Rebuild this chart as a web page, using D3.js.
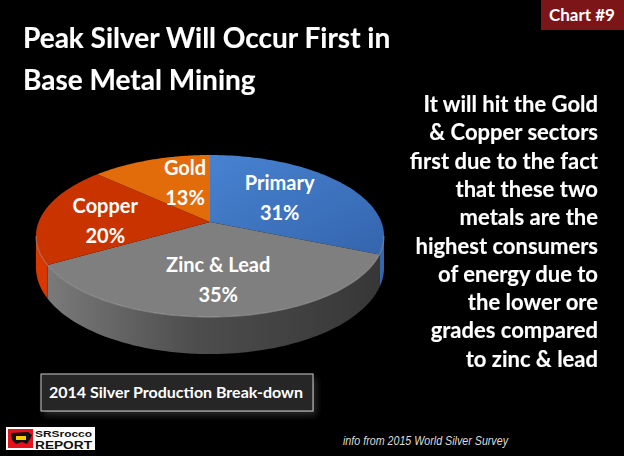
<!DOCTYPE html>
<html>
<head>
<meta charset="utf-8">
<script src="https://cdn.jsdelivr.net/npm/d3@7"></script>
<style>
  html, body { margin: 0; padding: 0; background: #000; }
  svg { display: block; }
  text { font-family: Lato, "Open Sans", sans-serif; font-weight: bold; fill: #fff; }
</style>
</head>
<body>
<div id="chart"></div>
<script>
// data
const categories = ["Primary", "Zinc & Lead", "Copper", "Gold"];
const shares = [31, 35, 20, 13];
const titleLines = ["Peak Silver Will Occur First in", "Base Metal Mining"];
const noteLines = [
  "It will hit the Gold",
  "& Copper sectors",
  "first due to the fact",
  "that these two",
  "metals are the",
  "highest consumers",
  "of energy due to",
  "the lower ore",
  "grades compared",
  "to zinc & lead"
];
const subtitle = "2014 Silver Production Break-down";
const source = "info from 2015 World Silver Survey";

const width = 624, height = 456;

// pie geometry (perspective ellipse)
const cx = 210, cy = 222, A = 171.4, B = 78.6, k = 0.173, depth = 37;
const topColors = {"Primary": "#3e74c2", "Zinc & Lead": "#7f7f7f", "Copper": "#c93300", "Gold": "#e36c0a"};
const labelShift = {"Primary": [-1, -2], "Zinc & Lead": [2, 13], "Copper": [-17, 3], "Gold": [8, -4]};

const svg = d3.select("#chart").append("svg")
  .attr("width", width).attr("height", height)
  .attr("viewBox", `0 0 ${width} ${height}`);

svg.append("rect").attr("width", width).attr("height", height).attr("fill", "#000");

const defs = svg.append("defs");

const wallGrad = defs.append("linearGradient").attr("id", "wallGray")
  .attr("gradientUnits", "userSpaceOnUse")
  .attr("x1", 40).attr("x2", 385).attr("y1", 0).attr("y2", 0);
wallGrad.append("stop").attr("offset", 0).attr("stop-color", "#7c7c7c");
wallGrad.append("stop").attr("offset", 0.45).attr("stop-color", "#4d4d4d");
wallGrad.append("stop").attr("offset", 1).attr("stop-color", "#363636");

const blueGrad = defs.append("linearGradient").attr("id", "topBlue")
  .attr("x1", 0).attr("x2", 1).attr("y1", 0).attr("y2", 1);
blueGrad.append("stop").attr("offset", 0).attr("stop-color", "#4782d1");
blueGrad.append("stop").attr("offset", 1).attr("stop-color", "#3465ad");

const glow = defs.append("filter").attr("id", "glow")
  .attr("x", "-10%").attr("y", "-30%").attr("width", "120%").attr("height", "160%");
glow.append("feDropShadow").attr("dx", 1).attr("dy", 1).attr("stdDeviation", 2)
  .attr("flood-color", "#000").attr("flood-opacity", 0.9);

const boxShadow = defs.append("filter").attr("id", "boxShadow")
  .attr("x", "-10%").attr("y", "-30%").attr("width", "130%").attr("height", "180%");
boxShadow.append("feDropShadow").attr("dx", 3).attr("dy", 4).attr("stdDeviation", 3)
  .attr("flood-color", "#333").attr("flood-opacity", 0.8);

// angle (radians, 0 = back/top, clockwise) -> screen point
function project(theta, f, h) {
  const s = Math.sin(theta), c = Math.cos(theta);
  const den = 1 + k * f * c;
  const x = cx + A * f * s / den;
  const y = cy - B * f * c / den;
  const d = h ? depth * (1 - k) / (1 + k * c) : 0;
  return [x, y + d];
}

const pie = d3.pie().sort(null).value(d => d.value);
const arcs = pie(categories.map((name, i) => ({name, value: shares[i]})));

const steps = 80;
function arcPoints(a0, a1, h) {
  return d3.range(steps + 1).map(i => project(a0 + (a1 - a0) * i / steps, 1, h));
}

// visible outer wall is where the wall faces the viewer
const visA = Math.acos(-k), visB = 2 * Math.PI - Math.acos(-k);
const line = d3.line();

const walls = svg.append("g");
arcs.forEach(a => {
  const a0 = Math.max(a.startAngle, visA), a1 = Math.min(a.endAngle, visB);
  if (a1 <= a0) return;
  const topPts = arcPoints(a0, a1, false);
  const botPts = arcPoints(a0, a1, true).reverse();
  const name = a.data.name;
  const fill = name === "Zinc & Lead" ? "url(#wallGray)"
    : d3.color(topColors[name]).brighter(name === "Copper" ? 0.2 : -0.4);
  walls.append("path")
    .attr("d", line(topPts.concat(botPts)) + "Z")
    .attr("fill", fill);
});

const tops = svg.append("g");
arcs.forEach(a => {
  const pts = [[cx, cy]].concat(arcPoints(a.startAngle, a.endAngle, false));
  const name = a.data.name;
  tops.append("path")
    .attr("d", line(pts) + "Z")
    .attr("fill", name === "Primary" ? "url(#topBlue)" : topColors[name]);
});

// faint highlight on the front rim of the top face
tops.append("path")
  .attr("d", line(arcPoints(visA, visB, false)))
  .attr("fill", "none").attr("stroke", "#b5b5b5").attr("stroke-opacity", 0.45).attr("stroke-width", 1.2);

// slice labels
const labels = svg.append("g").attr("text-anchor", "middle").style("font-size", "20px");
arcs.forEach(a => {
  const mid = (a.startAngle + a.endAngle) / 2;
  const p = project(mid, 0.52, false);
  const sh = labelShift[a.data.name];
  const g = labels.append("g").attr("transform", `translate(${p[0] + sh[0]},${p[1] + sh[1]})`);
  g.append("text").attr("y", -8).text(a.data.name);
  g.append("text").attr("y", 22).text(a.data.value + "%");
});

// title
svg.append("g").attr("filter", "url(#glow)")
  .selectAll("text").data(titleLines).join("text")
  .attr("x", 23).attr("y", (d, i) => 48 + i * 42)
  .style("font-size", "28px")
  .text(d => d);

// chart number tag
svg.append("rect").attr("x", 541).attr("y", 0).attr("width", 83).attr("height", 30).attr("fill", "#7b1518");
svg.append("text").attr("x", 582).attr("y", 21).attr("text-anchor", "middle")
  .style("font-size", "17px").text("Chart #9");

// right-hand note
svg.append("g").attr("filter", "url(#glow)").attr("text-anchor", "end")
  .selectAll("text").data(noteLines).join("text")
  .attr("x", 598).attr("y", (d, i) => 112 + i * 28.3)
  .style("font-size", "22px")
  .text(d => d);

// subtitle box
svg.append("rect").attr("x", 41).attr("y", 374).attr("width", 272).attr("height", 37)
  .attr("fill", "#262626").attr("stroke", "#c8c8c8").attr("stroke-width", 1)
  .attr("filter", "url(#boxShadow)");
svg.append("text").attr("x", 176).attr("y", 398).attr("text-anchor", "middle")
  .style("font-size", "16px").text(subtitle);

// source note
svg.append("text").attr("x", 508).attr("y", 445).attr("text-anchor", "end")
  .style("font-family", "'Liberation Sans', Arial, sans-serif").style("font-weight", "normal")
  .style("font-style", "italic").style("font-size", "12.5px").style("fill", "#dcdcdc")
  .attr("textLength", 165).attr("lengthAdjust", "spacingAndGlyphs")
  .text(source);

// logo
const logo = svg.append("g").attr("transform", "translate(6,427)");
logo.append("rect").attr("width", 89).attr("height", 23).attr("fill", "#fff");
logo.append("rect").attr("x", 2).attr("y", 2).attr("width", 25).attr("height", 19).attr("fill", "#e8101a");
logo.append("path").attr("d", "M5,6 L22,5 L26,8 L24,12 L21,17 L16,15 L10,17 L6,13 Z").attr("fill", "#111");
logo.append("rect").attr("x", 10).attr("y", 9).attr("width", 10).attr("height", 4).attr("fill", "#f5d000");
logo.append("text").attr("x", 29).attr("y", 9.5)
  .style("font-family", "'Liberation Sans', Arial, sans-serif").style("font-size", "8.5px").style("fill", "#111")
  .attr("textLength", 57).attr("lengthAdjust", "spacingAndGlyphs").text("SRSrocco");
logo.append("text").attr("x", 29).attr("y", 21.5)
  .style("font-family", "'Liberation Sans', Arial, sans-serif").style("font-size", "10.5px").style("fill", "#111")
  .attr("textLength", 57).attr("lengthAdjust", "spacingAndGlyphs").text("REPORT");
</script>
</body>
</html>
